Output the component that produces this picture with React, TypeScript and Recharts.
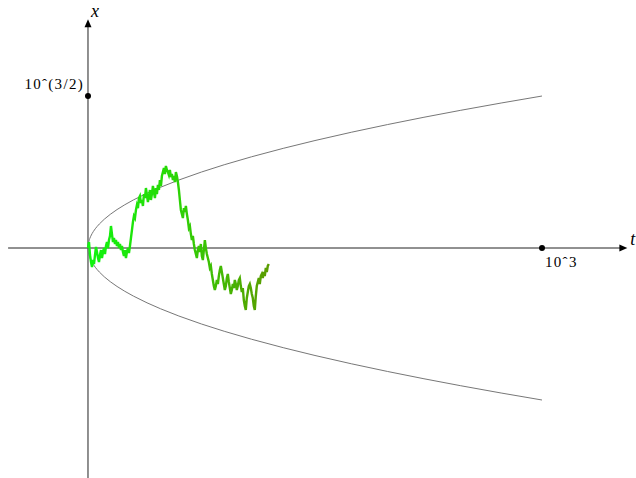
import { LineChart, Line, XAxis, YAxis, ReferenceLine, ReferenceDot } from 'recharts';

// time step of the walk (t units per sample)
const walkStep = 2.2;

// walk values x(t)
const walkValues = [
  0, 1.25, -1.46, -2.91, -3.95, -2.5, -3.33, -1.46, 0.21, -0.83, -2.08, -2.91, -1.46, -0.42, -2.08, -0.83,
  0, -1.25, 0.42, 1.25, 0, 1.66, 2.5, 4.58, 2.91, 1.25, 2.08, 0.83, 1.66, 0.42, 1.25, 0,
  0.83, -0.42, 0.42, -0.83, -1.66, -0.42, -2.08, -0.83, 0, -1.04, 0.42, 2.08, 3.74, 5.41, 6.66, 6.24,
  7.91, 8.95, 8.32, 10.4, 10.82, 9.36, 9.99, 8.74, 11.23, 10.4, 12.48, 11.03, 9.57, 10.82, 12.07, 9.99,
  11.23, 12.9, 11.65, 10.4, 12.48, 11.23, 13.11, 12.07, 14.15, 12.9, 14.98, 15.81, 16.64, 15.4, 17.06, 16.23,
  15.81, 15.19, 16.23, 14.77, 15.4, 14.15, 14.98, 13.73, 15.81, 14.98, 13.73, 12.07, 9.99, 7.91, 7.07, 6.24,
  8.32, 7.49, 8.74, 7.07, 5.83, 4.16, 4.58, 2.91, 1.66, 2.5, 0.83, -0.42, -1.25, -2.08, -0.42, 0.42,
  -0.83, 0.83, -1.66, -2.5, -0.42, 1.66, 0, -1.25, -2.08, -2.91, -4.16, -3.74, -5.41, -6.66, -7.91, -8.74,
  -7.91, -6.66, -7.49, -5.83, -4.58, -3.74, -4.99, -6.24, -7.49, -8.74, -7.91, -6.24, -5.41, -7.07, -8.32, -9.57,
  -8.74, -7.49, -8.32, -6.66, -7.49, -8.74, -7.91, -6.66, -6.24, -7.91, -9.15, -8.32, -10.82, -12.07, -12.9, -10.4,
  -9.15, -7.91, -7.49, -8.32, -9.57, -10.4, -12.07, -12.9, -9.99, -7.91, -7.07, -6.24, -7.49, -5.83, -5.41, -6.24,
  -4.99, -5.83, -4.16, -4.99, -3.74, -3.33,
];

// t samples for the envelope x = ±sqrt(t)
const envelopeT = [
  0, 0.05, 0.25, 0.6, 1, 2, 3, 4, 6, 9, 12, 16, 20, 25, 36, 49, 64, 81, 100, 130, 160, 200, 250, 300, 360,
  430, 500, 580, 660, 740, 820, 910, 1000,
];

const tTick = 1000;
const xTick = Math.sqrt(1000);
const tTickLabel = '10ˆ3';
const xTickLabel = '10ˆ(3/2)';

const walkData = walkValues.map((x, i) => ({ t: i * walkStep, x }));
const upperData = envelopeT.map((t) => ({ t, x: Math.sqrt(t) }));
const lowerData = envelopeT.map((t) => ({ t, x: -Math.sqrt(t) }));

const serif = "'Liberation Serif', serif";

function makeArrow(label: string, dx: number, dy: number) {
  return (props: any) => {
    const { x1, y1, x2, y2 } = props;
    const len = Math.hypot(x2 - x1, y2 - y1) || 1;
    const ux = (x2 - x1) / len;
    const uy = (y2 - y1) / len;
    const back = 8;
    const half = 3.5;
    const bx = x2 - ux * back;
    const by = y2 - uy * back;
    const pts = [
      `${x2},${y2}`,
      `${bx - uy * half},${by + ux * half}`,
      `${bx + uy * half},${by - ux * half}`,
    ].join(' ');
    return (
      <g>
        <line x1={x1} y1={y1} x2={bx + ux * 2} y2={by + uy * 2} stroke="#222" strokeWidth={1} />
        <polygon points={pts} fill="#000" />
        <text x={x2 + dx} y={y2 + dy} fontFamily={serif} fontStyle="italic" fontSize={18} fill="#000">
          {label}
        </text>
      </g>
    );
  };
}

function dotLabel(text: string, dx: number, dy: number, anchor: 'start' | 'end') {
  return (props: any) => {
    const vb = props.viewBox || {};
    const cx = (vb.x ?? 0) + (vb.width ?? 0) / 2;
    const cy = (vb.y ?? 0) + (vb.height ?? 0) / 2;
    return (
      <text
        x={cx + dx}
        y={cy + dy}
        textAnchor={anchor}
        fontFamily={serif}
        fontSize={15}
        letterSpacing={1.3}
        fill="#000"
      >
        {text}
      </text>
    );
  };
}

export default function App() {
  return (
    <div>
      <style>{'body{margin:0}'}</style>
      <LineChart width={636} height={478} margin={{ top: 0, right: 0, bottom: 0, left: 0 }}>
        <defs>
          <linearGradient id="walkGrad" x1="0" y1="0" x2="1" y2="0">
            <stop offset="0%" stopColor="#10f410" />
            <stop offset="45%" stopColor="#28d806" />
            <stop offset="100%" stopColor="#5a9c00" />
          </linearGradient>
        </defs>
        <XAxis type="number" dataKey="t" domain={[-193.83, 1207.05]} allowDataOverflow hide />
        <YAxis type="number" dataKey="x" domain={[-47.85, 51.6]} allowDataOverflow hide />
        <ReferenceLine
          segment={[{ x: -176, y: 0 }, { x: 1188, y: 0 }]}
          shape={makeArrow('t', 3, -3)}
        />
        <ReferenceLine
          segment={[{ x: 0, y: -47.85 }, { x: 0, y: 47.6 }]}
          shape={makeArrow('x', 3, -2)}
        />
        <Line
          data={upperData}
          dataKey="x"
          type="linear"
          stroke="#777"
          strokeWidth={1}
          dot={false}
          activeDot={false}
          isAnimationActive={false}
        />
        <Line
          data={lowerData}
          dataKey="x"
          type="linear"
          stroke="#777"
          strokeWidth={1}
          dot={false}
          activeDot={false}
          isAnimationActive={false}
        />
        <Line
          data={walkData}
          dataKey="x"
          type="linear"
          stroke="url(#walkGrad)"
          strokeWidth={2.4}
          dot={false}
          activeDot={false}
          isAnimationActive={false}
        />
        <ReferenceDot x={0} y={xTick} r={3} fill="#000" stroke="none" label={dotLabel(xTickLabel, -4, -7, 'end')} />
        <ReferenceDot x={tTick} y={0} r={3} fill="#000" stroke="none" label={dotLabel(tTickLabel, 3, 19, 'start')} />
      </LineChart>
    </div>
  );
}
